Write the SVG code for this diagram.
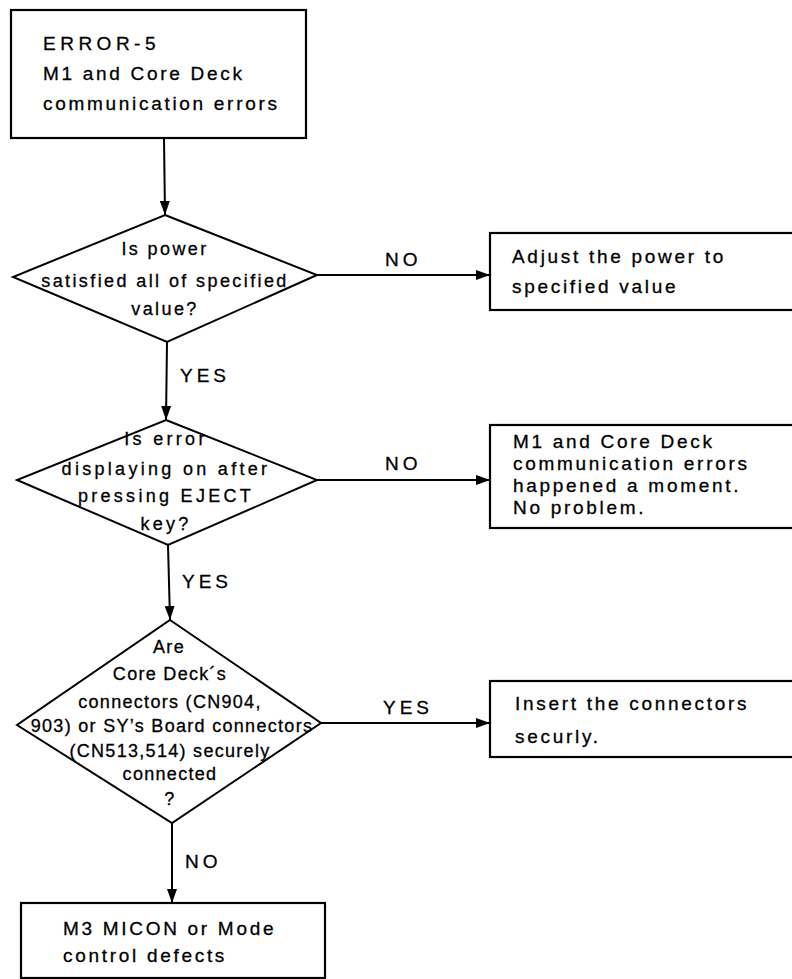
<svg xmlns="http://www.w3.org/2000/svg" width="792" height="979" viewBox="0 0 792 979">
<style>
.box{fill:#fff;stroke:#000;stroke-width:2.2}
.dia{fill:#fff;stroke:#000;stroke-width:2}
.t{font-family:"Liberation Sans",Arial,sans-serif;font-size:19px;letter-spacing:2.7px;fill:#000;stroke:#000;stroke-width:0.3}
.d{font-family:"Liberation Sans",Arial,sans-serif;font-size:18px;letter-spacing:2.4px;fill:#000;stroke:#000;stroke-width:0.3;text-anchor:middle}
.d2{letter-spacing:3.3px}
.d3{letter-spacing:1.3px}
.lbl{font-family:"Liberation Sans",Arial,sans-serif;font-size:19px;letter-spacing:4px;fill:#000;stroke:#000;stroke-width:0.3}
.c{stroke:#000;stroke-width:2;fill:none;marker-end:url(#ah)}
</style>
<defs>
<marker id="ah" markerUnits="userSpaceOnUse" markerWidth="14" markerHeight="10" refX="14" refY="5" orient="auto">
<path d="M0,0 L14,5 L0,10 z" fill="#000"/>
</marker>
</defs>
<rect width="792" height="979" fill="#fff"/>
<g id="connectors">
<line class="c" x1="164" y1="138" x2="165" y2="215"/>
<line class="c" x1="317" y1="275" x2="490" y2="275"/>
<line class="c" x1="167" y1="342" x2="166" y2="420"/>
<line class="c" x1="317" y1="480" x2="490" y2="480"/>
<line class="c" x1="168" y1="545" x2="170" y2="620"/>
<line class="c" x1="321" y1="723" x2="490" y2="723"/>
<line class="c" x1="172" y1="823" x2="172" y2="903"/>
<text class="lbl" x="385" y="266">NO</text>
<text class="lbl" x="180" y="382">YES</text>
<text class="lbl" x="385" y="470">NO</text>
<text class="lbl" x="182" y="588">YES</text>
<text class="lbl" x="383" y="714">YES</text>
<text class="lbl" x="185" y="868">NO</text>
</g>
<g id="start">
<rect class="box" x="11" y="10" width="295" height="128"/>
<text class="t" x="43" y="50" style="letter-spacing:4.5px">ERROR-5</text>
<text class="t" x="43" y="80">M1 and Core Deck</text>
<text class="t" x="43" y="110">communication errors</text>
</g>
<g id="q1">
<polygon class="dia" points="165,215 317,275 167,342 13,277"/>
<text class="d" x="165" y="255">Is power</text>
<text class="d" x="165" y="287">satisfied all of specified</text>
<text class="d" x="165" y="315">value?</text>
</g>
<g id="a1">
<rect class="box" x="490" y="233" width="310" height="77"/>
<text class="t" x="512" y="263">Adjust the power to</text>
<text class="t" x="512" y="293">specified value</text>
</g>
<g id="q2">
<polygon class="dia" points="166,420 317,480 168,545 17,480"/>
<text class="d d2" x="166" y="445">Is error</text>
<text class="d d2" x="166" y="475">displaying on after</text>
<text class="d d2" x="166" y="502">pressing EJECT</text>
<text class="d d2" x="166" y="530">key?</text>
</g>
<g id="a2">
<rect class="box" x="490" y="425" width="310" height="103"/>
<text class="t" x="513" y="448">M1 and Core Deck</text>
<text class="t" x="513" y="470">communication errors</text>
<text class="t" x="513" y="492">happened a moment.</text>
<text class="t" x="513" y="514">No problem.</text>
</g>
<g id="q3">
<polygon class="dia" points="170,620 321,723 172,823 17,725"/>
<text class="d d3" x="169" y="653">Are</text>
<text class="d d3" x="170" y="680">Core Deck´s</text>
<text class="d d3" x="170" y="708">connectors (CN904,</text>
<text class="d d3" x="172" y="732">903) or SY’s Board connectors</text>
<text class="d d3" x="170" y="757">(CN513,514) securely</text>
<text class="d d3" x="170" y="780">connected</text>
<text class="d d3" x="170" y="805">?</text>
</g>
<g id="a3">
<rect class="box" x="490" y="681" width="310" height="76"/>
<text class="t" x="515" y="710">Insert the connectors</text>
<text class="t" x="515" y="743">securly.</text>
</g>
<g id="end">
<rect class="box" x="21" y="903" width="304" height="75"/>
<text class="t" x="63" y="935">M3 MICON or Mode</text>
<text class="t" x="63" y="962">control defects</text>
</g>
</svg>
